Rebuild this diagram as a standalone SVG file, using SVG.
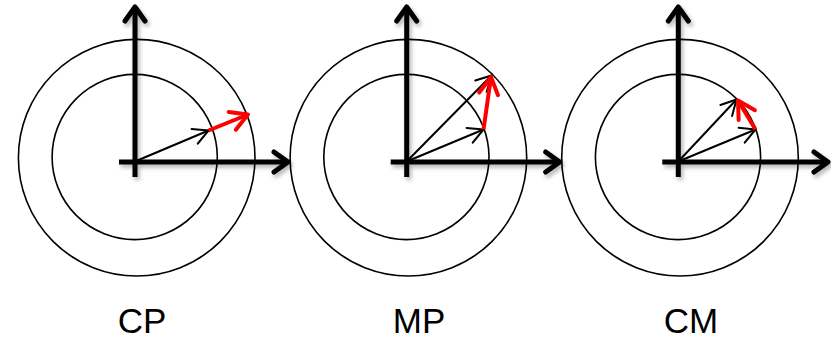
<svg xmlns="http://www.w3.org/2000/svg" width="831" height="341" viewBox="0 0 831 341">
<style>
.ring{fill:none;stroke:#000;stroke-width:1.6}
.axis{fill:none;stroke:#000;stroke-width:5;stroke-linecap:butt;stroke-linejoin:round}
.head{fill:none;stroke:#000;stroke-width:5;stroke-linecap:round;stroke-linejoin:round}
.vec{fill:none;stroke:#000;stroke-width:2;marker-end:url(#bh)}
.red{fill:none;stroke:#ff0000;stroke-width:4;marker-end:url(#rh)}
.lbl{font-family:"Liberation Sans",Arial,sans-serif;font-size:35px;fill:#000;text-anchor:middle}
</style>
<defs>
<filter id="sh" x="-20%" y="-20%" width="140%" height="140%">
<feDropShadow dx="2" dy="3" stdDeviation="2" flood-color="#000" flood-opacity="0.3"/>
</filter>
<marker id="bh" markerUnits="userSpaceOnUse" viewBox="-20 -12 24 24" refX="0" refY="0" markerWidth="24" markerHeight="24" orient="auto" overflow="visible">
<path d="M-15,-8 L0,0 L-15,8" fill="none" stroke="#000" stroke-width="2" stroke-linecap="round" stroke-linejoin="round"/>
</marker>
<marker id="rh" markerUnits="userSpaceOnUse" viewBox="-24 -14 28 28" refX="0" refY="0" markerWidth="28" markerHeight="28" orient="auto" overflow="visible">
<path d="M-17,-9.5 L0,0 L-17,9.5" fill="none" stroke="#ff0000" stroke-width="4" stroke-linecap="round" stroke-linejoin="round"/>
</marker>
</defs>

<g id="panel-cp">
<circle class="ring" cx="136.7" cy="157.7" r="118.3"/>
<circle class="ring" cx="134.7" cy="157" r="82.6"/>
<g filter="url(#sh)">
<path class="axis" d="M135,177 L135,8"/>
<path class="head" d="M125,21 L135,7 L145,21"/>
<path class="axis" d="M119,162 L287,162"/>
<path class="head" d="M274,152 L288,162 L274,172"/>
</g>
</g>

<g id="panel-mp">
<circle class="ring" cx="408.4" cy="157.7" r="118.3"/>
<circle class="ring" cx="406.4" cy="157" r="82.6"/>
<g filter="url(#sh)">
<path class="axis" d="M406.7,177 L406.7,8"/>
<path class="head" d="M396.7,21 L406.7,7 L416.7,21"/>
<path class="axis" d="M390.7,162 L558.7,162"/>
<path class="head" d="M545.7,152 L559.7,162 L545.7,172"/>
</g>
</g>

<g id="panel-cm">
<circle class="ring" cx="680" cy="157.7" r="118.3"/>
<circle class="ring" cx="678" cy="157" r="82.6"/>
<g filter="url(#sh)">
<path class="axis" d="M678.3,177 L678.3,8"/>
<path class="head" d="M668.3,21 L678.3,7 L688.3,21"/>
<path class="axis" d="M662.3,162 L827,162"/>
<path class="head" d="M814,152 L828,162 L814,172"/>
</g>
</g>

<g id="connectors">
<path class="vec" d="M135,161.5 L208.5,130.5"/>
<path class="red" d="M208.5,130.5 L248,114.5"/>

<path class="vec" d="M406.7,161.5 L483.5,129.5"/>
<path class="vec" d="M406.7,161.5 L491.5,75.5"/>
<path class="red" d="M483.5,129.5 L491,77"/>

<path class="vec" d="M678.3,161.5 L755.5,129.5"/>
<path class="vec" d="M678.3,161.5 L736.5,99.5"/>
<path class="red" d="M755.5,129.5 L738,100.5"/>
</g>

<g id="labels">
<text class="lbl" x="142" y="333">CP</text>
<text class="lbl" x="419" y="333">MP</text>
<text class="lbl" x="691" y="333">CM</text>
</g>
</svg>
